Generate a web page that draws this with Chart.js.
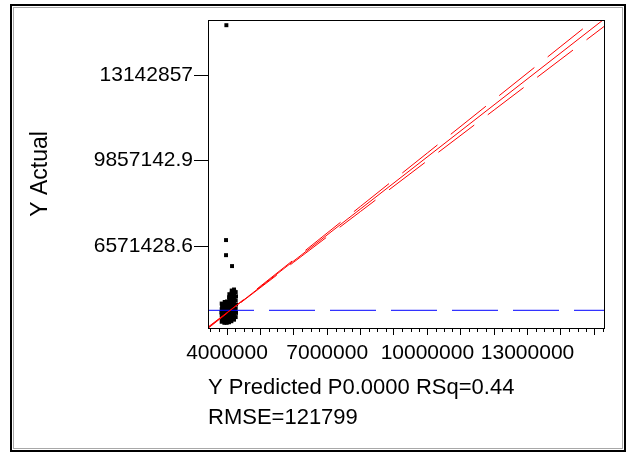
<!DOCTYPE html>
<html>
<head>
<meta charset="utf-8">
<script src="https://cdn.jsdelivr.net/npm/chart.js@4.4.1/dist/chart.umd.min.js"></script>
<style>
  body { margin: 0; background: #fff; }
  #wrap { position: relative; width: 640px; height: 454px; }
  #frame { position: absolute; left: 10px; top: 4px; width: 612px; height: 444px; border: 2px solid #000; pointer-events: none; }
  #frame div { position: absolute; left: 1px; top: 1px; right: 1px; bottom: 1px; border: 1px solid #a8a8a8; }
</style>
</head>
<body>
<div id="wrap">
  <canvas id="chart" width="640" height="454"></canvas>
  <div id="frame"><div></div></div>
</div>
<script>
"use strict";

// Y Predicted vs Y Actual
let predX = [
  3.84e6, 3.85e6, 3.84e6, 3.83e6, 3.84e6, 3.85e6, 3.84e6,
  3.92e6, 3.91e6, 3.92e6, 3.93e6, 3.92e6, 3.91e6, 3.92e6, 3.93e6,
  3.99e6, 3.98e6, 3.99e6, 4.00e6, 3.99e6, 3.98e6, 3.99e6, 4.00e6,
  4.06e6, 4.05e6, 4.06e6, 4.07e6, 4.06e6, 4.05e6, 4.06e6, 4.07e6, 4.06e6, 4.07e6,
  4.13e6, 4.12e6, 4.13e6, 4.14e6, 4.13e6, 4.12e6, 4.13e6, 4.14e6, 4.13e6, 4.14e6, 4.14e6,
  4.21e6, 4.20e6, 4.21e6, 4.22e6, 4.21e6, 4.20e6, 4.21e6, 4.22e6, 4.21e6, 4.22e6, 4.21e6,
  4.26e6, 4.27e6, 4.26e6, 4.27e6, 4.26e6, 4.27e6, 4.26e6,
  3.98e6, 3.97e6, 3.97e6, 4.15e6
];
let actualY = [
  3.66e6, 3.78e6, 3.90e6, 4.02e6, 4.14e6, 4.26e6, 4.36e6,
  3.62e6, 3.74e6, 3.86e6, 3.98e6, 4.10e6, 4.22e6, 4.34e6, 4.42e6,
  3.62e6, 3.72e6, 3.84e6, 3.96e6, 4.08e6, 4.20e6, 4.32e6, 4.44e6,
  3.64e6, 3.76e6, 3.88e6, 4.00e6, 4.12e6, 4.24e6, 4.36e6, 4.48e6, 4.60e6, 4.72e6,
  3.68e6, 3.80e6, 3.92e6, 4.04e6, 4.16e6, 4.28e6, 4.40e6, 4.52e6, 4.64e6, 4.76e6, 4.86e6,
  3.74e6, 3.86e6, 3.98e6, 4.10e6, 4.22e6, 4.34e6, 4.46e6, 4.58e6, 4.70e6, 4.82e6, 4.90e6,
  3.84e6, 4.00e6, 4.16e6, 4.32e6, 4.48e6, 4.64e6, 4.80e6,
  15.06e6, 6.80e6, 6.22e6, 5.80e6
];

// fit line, confidence curves, mean of Y
let fitX = [3.40e6, 15.40e6];
let fitY = [3.40e6, 15.40e6];
let bandX = [3.43e6, 4.10e6, 6.0e6, 8.0e6, 10.0e6, 12.0e6, 14.0e6, 15.29e6];
let upperY = [3.455e6, 4.11e6, 6.048e6, 8.098e6, 10.148e6, 12.198e6, 14.248e6, 15.57e6];
let lowerY = [3.405e6, 4.09e6, 5.952e6, 7.902e6, 9.852e6, 11.802e6, 13.752e6, 15.01e6];
let meanY = 4.10e6;

// axes
let xMin = 3.43e6, xMax = 15.29e6;
let yMin = 3.42e6, yMax = 15.26e6;
let xTickValues = [4e6, 5e6, 6e6, 7e6, 8e6, 9e6, 10e6, 11e6, 12e6, 13e6, 14e6, 15e6];
let xLabelValues = [4e6, 7e6, 10e6, 13e6];
let yTickValues = [6571428.6, 9857142.9, 13142857];
let yTickLabels = ["6571428.6", "9857142.9", "13142857"];

let minorTicks = [];
for (let v = 3.5e6; v <= xMax; v += 250000) {
  if (v % 1e6 !== 0) minorTicks.push(v);
}

const font = 'Arial, "Liberation Sans", sans-serif';

function pairs(xs, ys) {
  return xs.map((x, i) => ({ x: x, y: ys[i] }));
}

// plot box and small minor ticks on the x axis
const boxPlugin = {
  id: "box",
  afterDraw(chart) {
    let ctx = chart.ctx;
    let a = chart.chartArea;
    let x = chart.scales.x;
    ctx.save();
    ctx.strokeStyle = "#000";
    ctx.lineWidth = 1;
    ctx.strokeRect(Math.round(a.left) + 0.5, Math.round(a.top) + 0.5,
      Math.round(a.right - a.left), Math.round(a.bottom - a.top));
    ctx.beginPath();
    minorTicks.forEach(v => {
      let px = Math.round(x.getPixelForValue(v)) + 0.5;
      ctx.moveTo(px, a.bottom);
      ctx.lineTo(px, a.bottom + 4);
    });
    ctx.stroke();
    ctx.restore();
  }
};

let ctx0 = document.getElementById("chart");
let myChart = new Chart(ctx0, {
  type: "scatter",
  data: {
    datasets: [
      {
        label: "fit",
        data: pairs(fitX, fitY),
        showLine: true,
        borderColor: "#ff0000",
        borderWidth: 1,
        pointRadius: 0,
        order: 0
      },
      {
        label: "upper",
        data: pairs(bandX, upperY),
        showLine: true,
        borderColor: "#ff0000",
        borderWidth: 1,
        borderDash: [45, 17],
        pointRadius: 0,
        order: 0
      },
      {
        label: "lower",
        data: pairs(bandX, lowerY),
        showLine: true,
        borderColor: "#ff0000",
        borderWidth: 1,
        borderDash: [45, 17],
        borderDashOffset: 20,
        pointRadius: 0,
        order: 0
      },
      {
        label: "mean",
        data: [{ x: xMin, y: meanY }, { x: xMax, y: meanY }],
        showLine: true,
        borderColor: "#0000ff",
        borderWidth: 1,
        borderDash: [46, 15],
        pointRadius: 0,
        order: 0
      },
      {
        label: "Y Actual",
        data: pairs(predX, actualY),
        pointStyle: "rect",
        pointRadius: 2.8,
        borderWidth: 0,
        backgroundColor: "#000",
        order: 1
      }
    ]
  },
  options: {
    responsive: false,
    animation: false,
    layout: { padding: { top: 20, right: 36, left: 0, bottom: 0 } },
    plugins: {
      legend: { display: false },
      tooltip: { enabled: false }
    },
    scales: {
      x: {
        type: "linear",
        min: xMin,
        max: xMax,
        afterBuildTicks: s => { s.ticks = xTickValues.map(v => ({ value: v })); },
        afterFit: s => { s.height = 126; },
        grid: { drawOnChartArea: false, tickLength: 7, color: "#000" },
        border: { color: "#000" },
        ticks: {
          autoSkip: false,
          maxRotation: 0,
          color: "#000",
          padding: 6,
          font: { family: font, size: 21 },
          callback: v => (xLabelValues.includes(v) ? String(v) : "")
        },
        title: {
          display: true,
          text: ["Y Predicted P0.0000 RSq=0.44", "RMSE=121799"],
          align: "start",
          color: "#000",
          font: { family: font, size: 22, lineHeight: 30 / 22 },
          padding: { top: 0, bottom: 21 }
        }
      },
      y: {
        type: "linear",
        min: yMin,
        max: yMax,
        afterBuildTicks: s => { s.ticks = yTickValues.map(v => ({ value: v })); },
        afterFit: s => { s.width = 208; },
        grid: { drawOnChartArea: false, tickLength: 14, color: "#000" },
        border: { color: "#000" },
        ticks: {
          color: "#000",
          padding: 1,
          font: { family: font, size: 21 },
          callback: v => yTickLabels[yTickValues.indexOf(v)]
        },
        title: {
          display: true,
          text: "Y Actual",
          color: "#000",
          font: { family: font, size: 23, lineHeight: 1.2 },
          padding: { top: 27, bottom: 0 }
        }
      }
    }
  },
  plugins: [boxPlugin]
});
</script>
</body>
</html>
